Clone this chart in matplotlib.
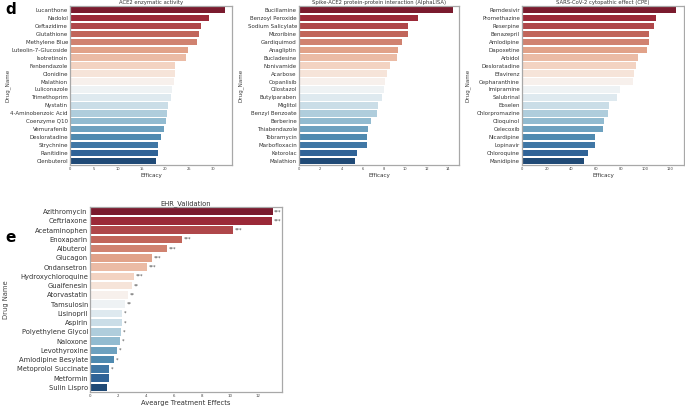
"""Drug ranking bar panels (d: screening assays, e: EHR validation)."""

import colorsys

import numpy as np
import matplotlib
matplotlib.use("Agg")
import matplotlib.pyplot as plt

# ---- panel d data -------------------------------------------------------
ace2_drugs = ["Lucanthone", "Nadolol", "Ceftazidime", "Glutathione", "Methylene Blue",
              "Luteolin-7-Glucoside", "Isotretinoin", "Fenbendazole", "Clonidine", "Malathion",
              "Luliconazole", "Trimethoprim", "Nystatin", "4-Aminobenzoic Acid", "Coenzyme Q10",
              "Vemurafenib", "Desloratadine", "Strychnine", "Ranitidine", "Clenbuterol"]
ace2_eff = [32.6, 29.1, 27.4, 27.1, 26.6, 24.7, 24.3, 22.1, 22.0, 21.8,
            21.5, 21.1, 20.6, 20.3, 20.1, 19.7, 19.1, 18.5, 18.5, 18.1]

alpha_drugs = ["Bucillamine", "Benzoyl Peroxide", "Sodium Salicylate", "Mizoribine", "Gardiquimod",
               "Anagliptin", "Bucladesine", "Nonivamide", "Acarbose", "Copanlisib",
               "Cilostazol", "Butylparaben", "Miglitol", "Benzyl Benzoate", "Berberine",
               "Thiabendazole", "Tobramycin", "Marbofloxacin", "Ketorolac", "Malathion"]
alpha_eff = [14.5, 11.2, 10.25, 10.25, 9.74, 9.34, 9.18, 8.61, 8.33, 8.05,
             7.96, 7.83, 7.39, 7.33, 6.73, 6.45, 6.42, 6.42, 5.48, 5.29]

cpe_drugs = ["Remdesivir", "Promethazine", "Reserpine", "Benazepril", "Amlodipine",
             "Dapoxetine", "Arbidol", "Desloratadine", "Efavirenz", "Cepharanthine",
             "Imipramine", "Salubrinal", "Ebselen", "Chlorpromazine", "Clioquinol",
             "Celecoxib", "Nicardipine", "Lopinavir", "Chloroquine", "Manidipine"]
cpe_eff = [124.9, 108.7, 106.8, 103.0, 102.8, 101.1, 93.9, 92.2, 90.4, 90.1,
           79.8, 76.9, 70.9, 69.6, 66.6, 65.3, 59.3, 59.3, 53.7, 49.9]

# ---- panel e data -------------------------------------------------------
ehr_drugs = ["Azithromycin", "Ceftriaxone", "Acetaminophen", "Enoxaparin", "Albuterol",
             "Glucagon", "Ondansetron", "Hydroxychloroquine", "Guaifenesin", "Atorvastatin",
             "Tamsulosin", "Lisinopril", "Aspirin", "Polyethylene Glycol", "Naloxone",
             "Levothyroxine", "Amlodipine Besylate", "Metoprolol Succinate", "Metformin", "Sulin Lispro"]
ehr_ate = [13.08, 13.03, 10.23, 6.6, 5.52, 4.42, 4.06, 3.16, 3.04, 2.73,
           2.51, 2.32, 2.30, 2.25, 2.15, 1.94, 1.75, 1.36, 1.34, 1.24]
ehr_stars = ["***", "***", "***", "***", "***", "***", "***", "***", "**", "**",
             "**", "*", "*", "*", "*", "*", "*", "*", "", ""]


def palette(n, sat=0.75):
    """RdBu sampled like seaborn, with the default bar desaturation."""
    cols = plt.cm.RdBu(np.linspace(0, 1, n + 2)[1:-1])
    out = []
    for c in cols:
        h, l, s = colorsys.rgb_to_hls(*c[:3])
        out.append(colorsys.hls_to_rgb(h, l, s * sat))
    return out


def bar_panel(ax, names, values, title, xlabel, ylabel, xmax, xticks, ylab_x,
              fs=4.0, tick_fs=2.6, lab_fs=4.1, title_fs=3.8):
    y = np.arange(len(names))
    ax.barh(y, values, height=0.8, color=palette(len(names)))
    ax.set_ylim(len(names) - 0.5, -0.5)
    ax.set_xlim(0, xmax)
    ax.set_yticks(y)
    ax.set_yticklabels(names, fontsize=fs, color="#333333")
    ax.set_xticks(xticks)
    ax.set_xticklabels([str(t) for t in xticks], fontsize=tick_fs, color="#444444")
    ax.tick_params(length=0, pad=1.5)
    ax.set_title(title, fontsize=title_fs, pad=1.5, color="#333333")
    ax.set_xlabel(xlabel, fontsize=lab_fs, labelpad=1.5, color="#333333")
    ax.set_ylabel(ylabel, fontsize=lab_fs, color="#444444")
    ax.yaxis.set_label_coords(ylab_x, 0.5)
    for sp in ax.spines.values():
        sp.set_color("#a8a8a8")
        sp.set_linewidth(0.9)


fig = plt.figure(figsize=(6.85, 4.07), dpi=100)
W, H = 685.0, 407.0


def add_axes(x0, y0, x1, y1):
    return fig.add_axes([x0 / W, 1 - y1 / H, (x1 - x0) / W, (y1 - y0) / H])


ax1 = add_axes(70, 6, 232, 165)
bar_panel(ax1, ace2_drugs, ace2_eff, "ACE2 enzymatic activity", "Efficacy", "Drug_Name",
          34.0, [0, 5, 10, 15, 20, 25, 30], -0.37)

ax2 = add_axes(299, 6, 459, 165)
bar_panel(ax2, alpha_drugs, alpha_eff, "Spike-ACE2 protein-protein interaction (AlphaLISA)",
          "Efficacy", "Drug_Name", 15.06, [0, 2, 4, 6, 8, 10, 12, 14], -0.35)

ax3 = add_axes(522, 6, 684, 165)
bar_panel(ax3, cpe_drugs, cpe_eff, "SARS-CoV-2 cytopathic effect (CPE)", "Efficacy", "Drug_Name",
          131.3, [0, 20, 40, 60, 80, 100, 120], -0.315)

ax4 = add_axes(90, 207, 282, 392)
bar_panel(ax4, ehr_drugs, ehr_ate, "EHR_Validation", "Avearge Treatment Effects", "Drug Name",
          13.75, [0, 2, 4, 6, 8, 10, 12], -0.424, fs=4.9, tick_fs=2.8, lab_fs=4.9, title_fs=4.9)
for i, (v, s) in enumerate(zip(ehr_ate, ehr_stars)):
    if s:
        ax4.text(v + 0.12, i, s, fontsize=3.6, color="#444444", va="center", ha="left")

fig.text(5 / W, 1 - 10 / H, "d", fontsize=11, fontweight="bold", va="center")
fig.text(5 / W, 1 - 238 / H, "e", fontsize=11, fontweight="bold", va="center")

fig.savefig("out.png", dpi=100)
